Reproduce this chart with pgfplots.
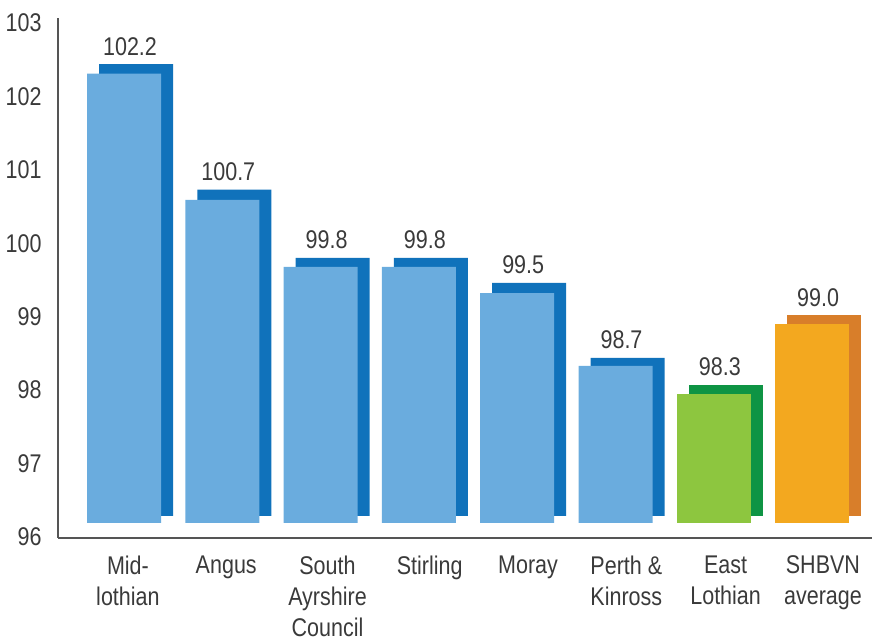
\documentclass[border=0pt]{standalone}
\usepackage{fontspec}
\setmainfont{Liberation Sans}[FakeStretch=0.84]
\usepackage{pgfplots}
\usepackage{pgfplotstable}
\pgfplotsset{compat=1.18}
\definecolor{lblue}{HTML}{6AACDE}
\definecolor{dblue}{HTML}{1072BB}
\definecolor{lgreen}{HTML}{8DC63F}
\definecolor{dgreen}{HTML}{0E9444}
\definecolor{lorange}{HTML}{F3A81F}
\definecolor{dorange}{HTML}{D87E2A}
\definecolor{txt}{HTML}{3A3A3A}
\definecolor{axl}{HTML}{555555}

% front (light) bars
\pgfplotstableread{
x y
0 102.31
1 100.59
2 99.68
3 99.68
4 99.32
5 98.33
}\lightblue
\pgfplotstableread{
x y
6 97.95
}\lightgreen
\pgfplotstableread{
x y
7 98.90
}\lightorange
% back (dark) bars with value labels
\pgfplotstableread{
x y lab
0 102.44 102.2
1 100.73 100.7
2 99.80 99.8
3 99.80 99.8
4 99.46 99.5
5 98.44 98.7
}\darkblue
\pgfplotstableread{
x y lab
6 98.07 98.3
}\darkgreen
\pgfplotstableread{
x y lab
7 99.02 99.0
}\darkorange

\begin{document}
\begin{tikzpicture}
\useasboundingbox (-29pt,-51.5pt) rectangle (407pt,269pt);
\begin{axis}[
  at={(0,0)}, anchor=south west,
  scale only axis,
  width=407pt, height=260pt,
  xmin=-0.6714, xmax=7.609,
  ymin=95.986, ymax=103.068,
  axis lines=left,
  axis line style={draw=axl, line width=0.6pt, -},
  axis on top,
  clip=true,
  ytick={96,97,...,103},
  xtick={0.04,1.04,2.07,3.11,4.11,5.11,6.12,7.11},
  xticklabels={{Mid-\\lothian},{Angus},{South\\Ayrshire\\Council},{Stirling},{Moray},{Perth \&\\Kinross},{East\\Lothian},{SHBVN\\average}},
  major tick length=0pt,
  /pgf/number format/assume math mode=true,
  tick label style={font=\fontsize{12.8}{15.4}\selectfont, text=txt},
  yticklabel style={anchor=east, inner sep=0pt, xshift=-8pt},
  xticklabel style={anchor=north, align=center, inner sep=0pt, yshift=-8.8pt},
  ybar, bar width=37pt,
]
% back bars
\addplot[ybar, bar shift=6pt, draw=none, fill=dblue,
  nodes near coords, point meta=explicit symbolic,
  every node near coord/.append style={font=\fontsize{12.8}{16}\selectfont, text=txt, anchor=base, inner sep=0pt, yshift=4.5pt, xshift=-3pt}]
  table[x=x, y=y, meta=lab] {\darkblue};
\addplot[ybar, bar shift=6pt, draw=none, fill=dgreen,
  nodes near coords, point meta=explicit symbolic,
  every node near coord/.append style={font=\fontsize{12.8}{16}\selectfont, text=txt, anchor=base, inner sep=0pt, yshift=4.5pt, xshift=-3pt}]
  table[x=x, y=y, meta=lab] {\darkgreen};
\addplot[ybar, bar shift=6pt, draw=none, fill=dorange,
  nodes near coords, point meta=explicit symbolic,
  every node near coord/.append style={font=\fontsize{12.8}{16}\selectfont, text=txt, anchor=base, inner sep=0pt, yshift=4.5pt, xshift=-3pt}]
  table[x=x, y=y, meta=lab] {\darkorange};
\fill[white] (axis cs:-1,95) rectangle (axis cs:8,96.28);
% front bars
\addplot[ybar, bar shift=0pt, draw=none, fill=lblue] table[x=x, y=y] {\lightblue};
\addplot[ybar, bar shift=0pt, draw=none, fill=lgreen] table[x=x, y=y] {\lightgreen};
\addplot[ybar, bar shift=0pt, draw=none, fill=lorange] table[x=x, y=y] {\lightorange};
\fill[white] (axis cs:-1,95) rectangle (axis cs:8,96.19);
\end{axis}
\end{tikzpicture}
\end{document}
